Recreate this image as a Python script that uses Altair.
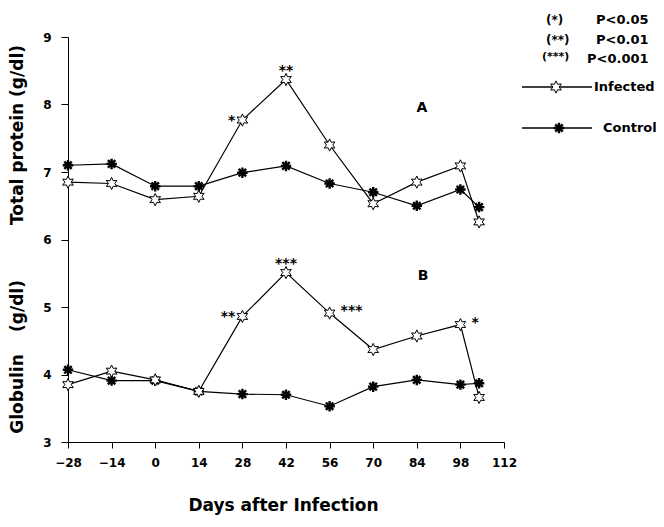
import math
import altair as alt
import pandas as pd

# ---------------- data ----------------
days = [-28, -14, 0, 14, 28, 42, 56, 70, 84, 98, 104]
tp_infected = [6.85, 6.83, 6.59, 6.64, 7.77, 8.37, 7.40, 6.53, 6.85, 7.09, 6.26]
tp_control = [7.10, 7.12, 6.79, 6.79, 6.99, 7.09, 6.83, 6.70, 6.50, 6.74, 6.48]
glob_infected = [3.85, 4.05, 3.92, 3.75, 4.86, 5.51, 4.91, 4.37, 4.57, 4.74, 3.66]
glob_control = [4.07, 3.91, 3.91, 3.75, 3.71, 3.70, 3.53, 3.82, 3.92, 3.85, 3.87]

group_names = ["Infected", "Control"]
panel_names = ["A", "B"]

x_ticks = list(range(-28, 113, 7))
y_ticks = [3 + 0.5 * i for i in range(13)]

sig_panel = ["A", "A", "B", "B", "B", "B"]
sig_day = [28, 42, 28, 42, 56, 98]
sig_label = ["*", "**", "**", "***", "***", "*"]
sig_side = ["left", "above", "left", "above", "right", "right"]

sig_levels = ["(*)", "(**)", "(***)"]
sig_p = ["P<0.05", "P<0.01", "P<0.001"]

x_title = "Days after Infection"
y_title_a = "Total  protein  (g/dl)"
y_title_b1 = "Globulin"
y_title_b2 = "(g/dl)"

# ---------------- tables ----------------
rows = []
for panel, inf, ctl in [("A", tp_infected, tp_control), ("B", glob_infected, glob_control)]:
    for d, v in zip(days, inf):
        rows.append({"panel": panel, "group": "Infected", "day": d, "value": v})
    for d, v in zip(days, ctl):
        rows.append({"panel": panel, "group": "Control", "day": d, "value": v})
df = pd.DataFrame(rows)
df["series"] = df["panel"] + "-" + df["group"]

inf_lookup = {("A", d): v for d, v in zip(days, tp_infected)}
inf_lookup.update({("B", d): v for d, v in zip(days, glob_infected)})
sig_df = pd.DataFrame({
    "panel": sig_panel, "day": sig_day, "label": sig_label, "side": sig_side,
    "value": [inf_lookup[(p, d)] for p, d in zip(sig_panel, sig_day)],
})

# ---------------- symbols ----------------
pts = []
for k in range(12):
    r = 1.0 if k % 2 == 0 else 0.52
    a = math.radians(-90 + 30 * k)
    pts.append(f"{r * math.cos(a):.3f},{r * math.sin(a):.3f}")
STAR = "M" + "L".join(pts) + "Z"
AST = "M-1,0L1,0M0,-1L0,1M-0.71,-0.71L0.71,0.71M-0.71,0.71L0.71,-0.71"

FONT = "DejaVu Sans"

x_enc = alt.X(
    "day:Q",
    scale=alt.Scale(domain=[-28, 112], nice=False, zero=False),
    axis=alt.Axis(
        values=x_ticks,
        labelExpr="datum.value % 14 === 0 ? datum.label : ''",
        tickSize={"condition": {"test": "datum.value % 14 === 0", "value": 6}, "value": 4},
        labelPadding=9,
        labelFont=FONT, labelFontSize=12, labelFontWeight="bold", labelColor="black",
        domainColor="black", tickColor="black", grid=False,
        title=x_title, titleFont=FONT, titleFontSize=17, titleFontWeight="bold",
        titleColor="black", titleX=215, titleY=63, titleBaseline="middle", titleAlign="center",
        labelFlush=False, labelOverlap=False,
    ),
)
y_enc = alt.Y(
    "value:Q",
    scale=alt.Scale(domain=[3, 9], nice=False, zero=False),
    axis=alt.Axis(
        values=y_ticks,
        labelExpr="datum.value % 1 === 0 ? format(datum.value, 'd') : ''",
        tickSize={"condition": {"test": "datum.value % 1 === 0", "value": 7}, "value": 3},
        labelPadding=10,
        labelFont=FONT, labelFontSize=12, labelFontWeight="bold", labelColor="black",
        domainColor="black", tickColor="black", grid=False, title=None,
        labelFlush=False, labelOverlap=False,
    ),
)

base = alt.Chart(df).encode(x=x_enc, y=y_enc)

lines = base.mark_line(color="black", strokeWidth=1.2).encode(detail="series:N")
pts_inf = base.transform_filter(alt.datum.group == "Infected").mark_point(
    shape=STAR, size=150, filled=True, fill="white", stroke="black", strokeWidth=1, opacity=1
)
pts_ctl = base.transform_filter(alt.datum.group == "Control").mark_point(
    shape=AST, size=110, filled=False, stroke="black", strokeWidth=2.4, opacity=1
)

sig_base = alt.Chart(sig_df).encode(
    x=alt.X("day:Q"), y=alt.Y("value:Q"), text="label:N"
)
sig_left = sig_base.transform_filter(alt.datum.side == "left").mark_text(
    font=FONT, fontSize=14, fontWeight="bold", align="right", baseline="middle", dx=-7, dy=1, color="black"
)
sig_above = sig_base.transform_filter(alt.datum.side == "above").mark_text(
    font=FONT, fontSize=14, fontWeight="bold", align="center", baseline="middle", dx=0, dy=-9, color="black"
)
sig_right = sig_base.transform_filter(alt.datum.side == "right").mark_text(
    font=FONT, fontSize=14, fontWeight="bold", align="left", baseline="middle", dx=11, dy=-2, color="black"
)

one = pd.DataFrame({"k": [0]})


def txt(s, x, y, size=12, align="left", angle=0):
    return alt.Chart(one).mark_text(
        text=s, font=FONT, fontSize=size, fontWeight="bold", align=align,
        baseline="middle", angle=angle, color="black"
    ).encode(x=alt.value(x), y=alt.value(y))


deco = [
    txt(panel_names[0], 354, 71, 14, "center"),
    txt(panel_names[1], 355, 239, 14, "center"),
    txt(y_title_a, -50, 98, 17, "center", 270),
    txt(y_title_b1, -50, 357, 17, "center", 270),
    txt(y_title_b2, -50, 269, 17, "center", 270),
    txt(sig_levels[0], 478, -17, 12),
    txt(sig_levels[1], 478, 3, 12),
    txt(sig_levels[2], 474, 20, 11),
    txt(sig_p[0], 528, -17, 13),
    txt(sig_p[1], 528, 3, 13),
    txt(sig_p[2], 519, 22, 13),
    txt(group_names[0], 526, 50, 13),
    txt(group_names[1], 535, 91, 13),
]

leg_lines = [
    alt.Chart(one).mark_rule(color="black", strokeWidth=1.3).encode(
        x=alt.value(454), x2=alt.value(524), y=alt.value(50)),
    alt.Chart(one).mark_rule(color="black", strokeWidth=1.3).encode(
        x=alt.value(454), x2=alt.value(524), y=alt.value(91)),
    alt.Chart(one).mark_point(
        shape=STAR, size=150, filled=True, fill="white", stroke="black", strokeWidth=1, opacity=1
    ).encode(x=alt.value(488), y=alt.value(50)),
    alt.Chart(one).mark_point(
        shape=AST, size=110, filled=False, stroke="black", strokeWidth=2.4, opacity=1
    ).encode(x=alt.value(491), y=alt.value(91)),
]

chart = alt.layer(
    lines, pts_ctl, pts_inf, sig_left, sig_above, sig_right, *deco, *leg_lines
).properties(
    width=436, height=405,
    autosize=alt.AutoSizeParams(type="none"),
    padding={"left": 60, "top": 29, "right": 152, "bottom": 74},
    background="white",
).configure_view(stroke=None)

chart.save("out.html", embed_options={"renderer": "svg", "actions": False})
